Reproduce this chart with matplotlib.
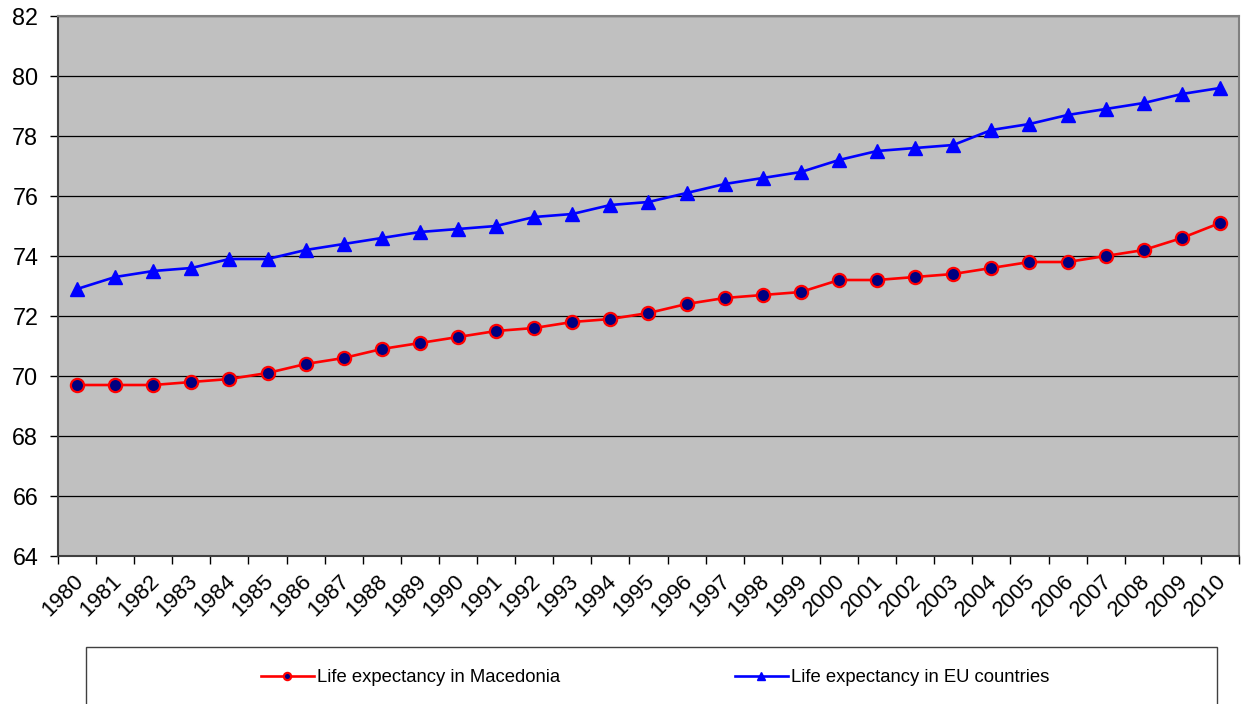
import matplotlib.pyplot as plt
from matplotlib.patches import Rectangle
import matplotlib.transforms as mtransforms
import numpy as np

plt.rcParams['font.family'] = ['Liberation Sans', 'DejaVu Sans']

years = list(range(1980, 2011))
macedonia = [69.7, 69.7, 69.7, 69.8, 69.9, 70.1, 70.4, 70.6, 70.9, 71.1,
             71.3, 71.5, 71.6, 71.8, 71.9, 72.1, 72.4, 72.6, 72.7, 72.8,
             73.2, 73.2, 73.3, 73.4, 73.6, 73.8, 73.8, 74.0, 74.2, 74.6, 75.1]
eu = [72.9, 73.3, 73.5, 73.6, 73.9, 73.9, 74.2, 74.4, 74.6, 74.8,
      74.9, 75.0, 75.3, 75.4, 75.7, 75.8, 76.1, 76.4, 76.6, 76.8,
      77.2, 77.5, 77.6, 77.7, 78.2, 78.4, 78.7, 78.9, 79.1, 79.4, 79.6]
labels = ["Life expectancy in Macedonia", "Life expectancy in EU countries"]

fig = plt.figure(figsize=(12.44, 7.04), dpi=100)
ax = fig.add_axes([58/1244, 1 - 556/704, (1239 - 58)/1244, 540/704])
ax.set_facecolor('#C0C0C0')

x = np.arange(len(years))
l1, = ax.plot(x, macedonia, color='#FF0000', lw=1.9, marker='o', ms=9.5,
              mfc='#000080', mec='#FF0000', mew=1.6, zorder=3)
l2, = ax.plot(x, eu, color='#0000FF', lw=1.9, marker='^', ms=10.5,
              mfc='#0000FF', mec='#0000FF', zorder=3)

ax.set_ylim(64, 82)
ax.set_yticks(np.arange(64, 83, 2))
ax.yaxis.grid(True, color='black', lw=0.9)
ax.set_axisbelow(True)
ax.tick_params(axis='y', labelsize=16.8, length=6, width=1, pad=8.3)

# category axis: ticks between years, labels centred on each year
ax.set_xlim(-0.5, len(years) - 0.5)
ax.set_xticks(np.arange(-0.5, len(years), 1.0))
ax.set_xticklabels([])
ax.set_xticks(x, minor=True)
ax.set_xticklabels([str(y) for y in years], minor=True, rotation=45,
                   ha='right', va='center', rotation_mode='anchor', fontsize=16)
ax.tick_params(axis='x', which='major', length=6, width=1)
ax.tick_params(axis='x', which='minor', length=0, pad=16)
shift = mtransforms.ScaledTranslation(3/100, 0, fig.dpi_scale_trans)
for lab in ax.get_xticklabels(minor=True):
    lab.set_transform(lab.get_transform() + shift)

for side in ['top', 'right']:
    ax.spines[side].set_color('#808080')
    ax.spines[side].set_linewidth(1.5)
for side in ['left', 'bottom']:
    ax.spines[side].set_color('#404040')
    ax.spines[side].set_linewidth(1.5)

# legend box along the bottom
fig.patches.append(Rectangle((86/1244, -0.05), (1217 - 86)/1244, 0.05 + (704 - 647)/704,
                             transform=fig.transFigure, fill=False,
                             edgecolor='#404040', lw=1))
fig.legend([l1], [labels[0]], loc='center left', bbox_to_anchor=(244/1244, 1 - 678/704),
           frameon=False, fontsize=13.3, handlelength=2.87, handletextpad=0.2, markerscale=0.55)
fig.legend([l2], [labels[1]], loc='center left', bbox_to_anchor=(718/1244, 1 - 678/704),
           frameon=False, fontsize=13.3, handlelength=2.87, handletextpad=0.2, markerscale=0.55)

fig.savefig('out.png', dpi=100)
